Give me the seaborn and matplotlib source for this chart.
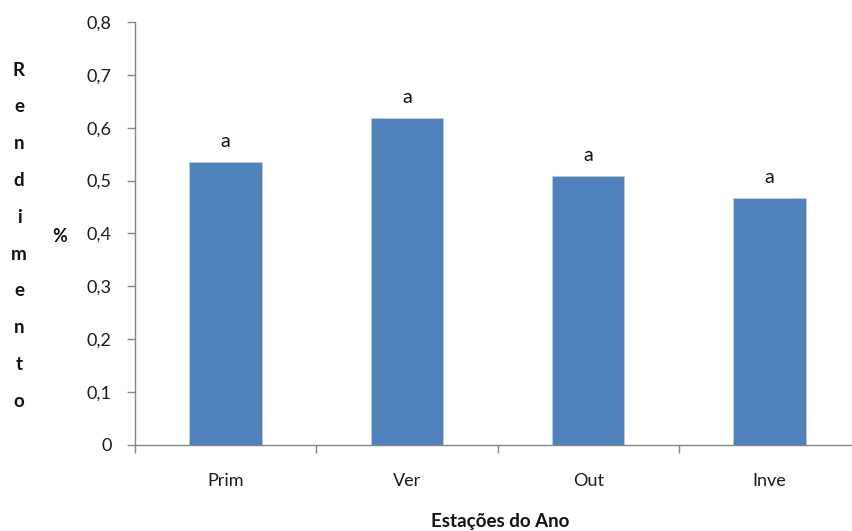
import matplotlib
matplotlib.use("Agg")
import matplotlib.pyplot as plt
import seaborn as sns
import pandas as pd
from matplotlib.ticker import FixedLocator, FuncFormatter

# Rendimento médio por estação do ano
estacoes = ["Prim", "Ver", "Out", "Inve"]
rendimento = [0.535, 0.618, 0.508, 0.467]
letras = ["a", "a", "a", "a"]
yticks = [0.0, 0.1, 0.2, 0.3, 0.4, 0.5, 0.6, 0.7, 0.8]

df = pd.DataFrame({"estacao": estacoes, "rendimento": rendimento})

sns.set_theme(style="white")
plt.rcParams["font.family"] = ["Lato", "DejaVu Sans"]

fig = plt.figure(figsize=(8.53, 5.31), dpi=100)
ax = fig.add_axes([0.1583, 0.162, 0.85, 0.7966])

sns.barplot(data=df, x="estacao", y="rendimento", color="#4F81BD",
            saturation=1, width=0.4, ax=ax)
for p in ax.patches:
    p.set_edgecolor("#B9CDE5")
    p.set_linewidth(0.6)

ax.set_xlim(-0.5, len(estacoes) - 0.5)
ax.set_ylim(0, 0.8)
ax.yaxis.set_major_locator(FixedLocator(yticks))
ax.yaxis.set_major_formatter(FuncFormatter(
    lambda v, _: "0" if v == 0 else f"{v:.1f}".replace(".", ",")))

# category divider ticks on the x axis
ax.set_xticks([i - 0.5 for i in range(len(estacoes) + 1)], minor=False)
ax.set_xticklabels([])
ax.set_xticks(range(len(estacoes)), minor=True)
ax.set_xticklabels(estacoes, minor=True)
ax.tick_params(axis="x", which="major", length=6, width=1, color="#868686",
               direction="out", bottom=True)
ax.tick_params(axis="x", which="minor", length=0, pad=20, labelsize=13,
               labelcolor="#1a1a1a")
ax.tick_params(axis="y", which="major", length=6, width=1, color="#868686",
               direction="out", left=True, labelsize=13, labelcolor="#1a1a1a",
               pad=11)

for s in ["top", "right"]:
    ax.spines[s].set_visible(False)
for s in ["left", "bottom"]:
    ax.spines[s].set_color("#868686")
    ax.spines[s].set_linewidth(1)

ax.set_xlabel("")
ax.set_ylabel("")

# significance letters above each bar
for i, (v, t) in enumerate(zip(rendimento, letras)):
    ax.annotate(t, (i, v), xytext=(0, 9), textcoords="offset points",
                ha="center", va="bottom", fontsize=14, color="#111111")

# axis titles
fig.text(500 / 853, 1 - 521 / 531, "Estações do Ano", ha="center",
         va="center", fontsize=13.5, fontweight="bold", color="#111111")
palavra = "Rendimento"
y0, passo = 70, 36.8
for k, ch in enumerate(palavra):
    fig.text(19 / 853, 1 - (y0 + k * passo) / 531, ch, ha="center",
             va="center", fontsize=13.5, fontweight="bold", color="#111111")
fig.text(60 / 853, 1 - 237 / 531, "%", ha="center", va="center",
         fontsize=13, fontweight="bold", color="#111111")

fig.savefig("out.png", dpi=100)
